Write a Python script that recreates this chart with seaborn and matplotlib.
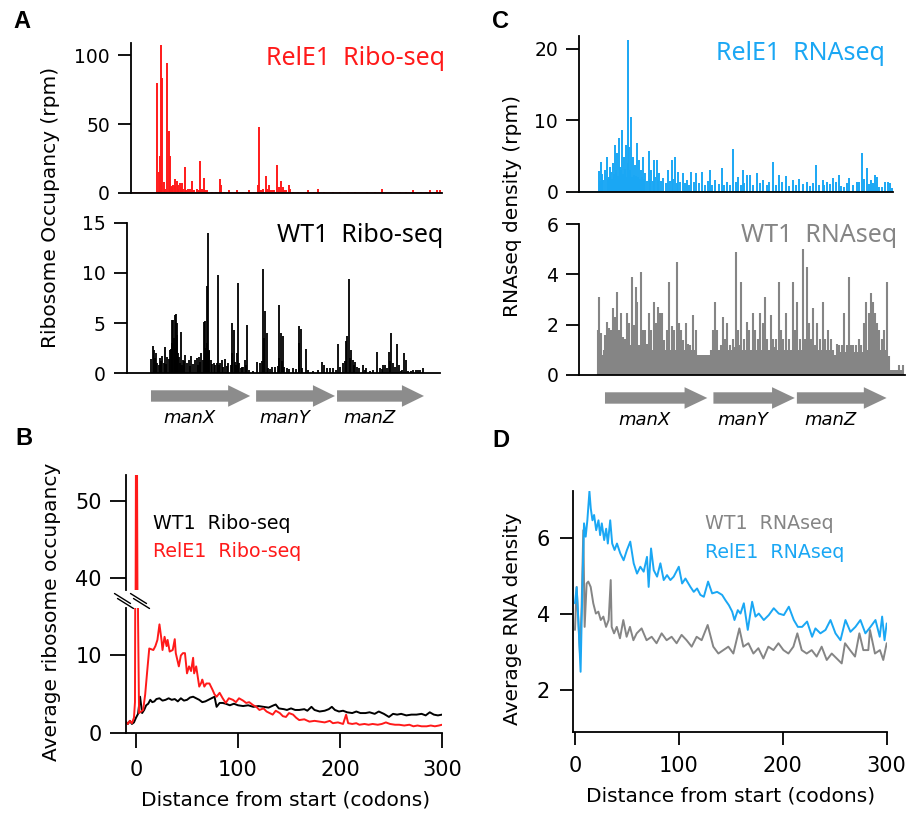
import matplotlib.pyplot as plt
import seaborn as sns
from matplotlib.lines import Line2D

W, H = 911, 814
RED = '#ff1a1a'
BLUE = '#1aa7f4'
GREY = '#858585'
ARROW = '#8c8c8c'

# ---- panel A: ribosome occupancy along manXYZ (position in bp from manX start)
relE_ribo_pos = [56, 75, 88, 98, 111, 127, 140, 160, 173, 186, 195, 206, 215, 232, 240, 252, 260, 268,
                 284, 290, 301, 315, 330, 345, 366, 380, 405, 420, 448, 470, 484, 500, 519, 530, 546,
                 600, 640, 676, 686, 720, 761, 846, 900, 964, 1010, 1052, 1062, 1080, 1101, 1127, 1140,
                 1153, 1170, 1183, 1210, 1232, 1251, 1274, 1290, 1300, 1320, 1349, 1362, 1390, 1444,
                 1542, 1600, 1633, 1700, 1787, 1850, 1934, 2000, 2114, 2200, 2261, 2350, 2440, 2500,
                 2571, 2650, 2700, 2734, 2800, 2832]
relE_ribo_val = [80, 15, 27, 107, 83, 8, 3, 94, 45, 27, 4, 5, 6, 10, 5, 9, 3, 6,
                 7, 4, 7, 3, 19, 2, 3, 3, 9, 2, 3, 2, 23, 3, 11, 2, 2,
                 1, 1, 10, 6, 1, 2, 2, 1, 2, 1, 6, 48, 2, 3, 12, 3,
                 6, 2, 2, 2, 20, 4, 9, 4, 2, 2, 6, 3, 1, 1,
                 2, 1, 3, 1, 1, 1, 1, 1, 1, 1, 3, 1, 1, 1,
                 2, 1, 1, 2, 2, 2]

wt_ribo_pos = [16, 29, 49, 62, 88, 111, 137, 160, 186, 203, 219, 232, 245, 258, 271, 291, 310, 337,
               369, 389, 428, 448, 470, 493, 519, 533, 546, 559, 572, 588, 617, 644, 657, 676, 696,
               722, 755, 797, 810, 826, 853, 866, 892, 918, 938, 964, 1042, 1068, 1101, 1117, 1134,
               1186, 1212, 1258, 1271, 1290, 1330, 1388, 1447, 1467, 1519, 1591, 1676, 1695, 1754,
               1787, 1836, 1885, 1911, 1924, 1940, 1957, 1976, 1996, 2022, 2074, 2107, 2146, 2218,
               2277, 2296, 2329, 2355, 2368, 2414, 2447, 2479, 2499, 2571, 2620, 2669,
               5, 40, 75, 100, 125, 150, 175, 195, 210, 225, 240, 252, 265, 280, 300, 320, 350, 380,
               410, 460, 480, 505, 526, 540, 552, 565, 600, 630, 665, 710, 740, 780, 790, 835, 845,
               880, 905, 930, 1000, 1090, 1110, 1150, 1170, 1240, 1250, 1280, 1300, 1350, 1420, 1455,
               1480, 1540, 1640, 1720, 1810, 1850, 1900, 1950, 1985, 2040, 2100, 2180, 2240, 2260,
               2310, 2340, 2390, 2430, 2460, 2520, 2550, 2600, 2640]
wt_ribo_val = [2.75, 2.3, 2.0, 1.0, 1.5, 1.7, 2.65, 1.6, 2.3, 5.3, 5.3, 5.8, 5.9, 5.0, 1.6, 4.1, 1.3, 1.8,
               1.3, 1.7, 1.3, 1.5, 1.6, 2.0, 5.1, 5.2, 8.7, 14.0, 2.3, 1.3, 1.0, 1.0, 9.8, 1.0, 1.3,
               1.4, 1.0, 5.0, 4.3, 1.1, 9.0, 1.0, 0.6, 1.3, 4.8, 0.3, 1.1, 1.0, 10.4, 6.2, 4.0,
               0.6, 0.6, 6.8, 4.0, 3.7, 0.5, 0.5, 4.7, 4.4, 2.4, 0.2, 1.1, 0.8, 0.5,
               0.5, 2.9, 1.0, 3.2, 3.7, 9.4, 2.3, 1.3, 1.1, 0.6, 0.8, 0.5, 0.2, 2.1,
               0.8, 0.8, 2.1, 4.0, 1.0, 2.9, 0.2, 2.0, 1.3, 0.3, 0.3, 0.5,
               1.4, 1.5, 0.8, 1.2, 1.0, 0.9, 1.4, 2.4, 3.0, 3.5, 2.5, 3.8, 2.0, 1.0, 0.8, 1.2, 1.0, 0.7,
               0.9, 0.8, 1.1, 1.3, 2.5, 2.0, 3.0, 2.2, 0.9, 0.8, 0.8, 0.6, 0.7, 0.8, 2.0, 0.8, 2.0,
               0.5, 0.6, 0.8, 0.2, 1.2, 3.5, 0.5, 0.4, 0.7, 1.5, 1.2, 0.6, 0.4, 0.4, 3.0,
               0.5, 0.3, 0.3, 0.5, 0.3, 0.6, 1.2, 1.5, 0.8, 0.5, 0.3, 0.3, 0.5, 0.4,
               0.5, 1.2, 0.6, 0.8, 0.3, 0.2, 0.2, 0.3, 0.3]

# ---- panel C: RNA-seq density along manXYZ
relE_rna_pos = [-54, -35, -16, 16, 35, 54, 73, 92, 111, 130, 143, 161, 180, 199, 215, 231, 244, 263,
                285, 307, 323, 339, 364, 383, 415, 440, 466, 491, 516, 554, 599, 637, 668, 694, 738,
                776, 820, 864, 921, 998, 1048, 1112, 1156, 1213, 1264, 1308, 1346, 1378, 1441, 1504,
                1593, 1650, 1720, 1789, 1846, 1916, 2005, 2068, 2106, 2163, 2220, 2271, 2321, 2391,
                2438, 2486, 2530, 2568, 2606, 2660, 2689, 2727,
                -45, -25, 0, 25, 45, 63, 83, 102, 120, 152, 170, 190, 207, 222, 238, 253, 274, 296,
                315, 331, 350, 373, 398, 428, 453, 478, 503, 535, 575, 620, 650, 680, 715, 757, 798,
                842, 890, 950, 975, 1020, 1080, 1135, 1185, 1240, 1290, 1325, 1410, 1470, 1540, 1560,
                1620, 1680, 1750, 1815, 1880, 1950, 1980, 2035, 2085, 2135, 2190, 2245, 2295, 2355,
                2415, 2460, 2510, 2550, 2585, 2630, 2710]
relE_rna_val = [2.9, 4.1, 1.6, 4.9, 2.1, 2.8, 4.0, 6.5, 5.4, 7.5, 3.5, 8.6, 4.9, 6.5, 21.3, 6.3, 10.5, 4.9,
                3.7, 6.8, 4.4, 3.1, 4.9, 2.6, 5.7, 3.0, 4.5, 4.4, 2.6, 1.9, 3.1, 4.5, 4.9, 2.8, 2.6,
                1.6, 2.8, 2.6, 2.8, 3.1, 1.6, 3.3, 1.4, 6.0, 2.1, 3.0, 2.3, 2.3, 2.6, 1.6,
                4.1, 2.3, 2.2, 1.6, 1.8, 1.4, 3.8, 1.6, 1.4, 1.9, 2.3, 0.7, 1.9, 1.3,
                5.4, 3.3, 1.6, 2.3, 0.7, 1.3, 1.3, 0.5,
                1.5, 2.5, 3.0, 1.8, 3.5, 1.8, 2.5, 3.0, 2.2, 3.0, 2.5, 3.2, 2.0, 4.0, 3.0, 2.0, 2.4, 2.2,
                2.0, 1.8, 2.0, 1.8, 1.5, 1.8, 1.5, 2.0, 1.6, 1.5, 1.2, 1.5, 1.8, 1.2, 1.3, 1.2, 1.0,
                1.4, 1.2, 1.0, 1.5, 1.0, 1.1, 0.9, 1.0, 1.3, 0.9, 1.2, 1.0, 1.2, 0.9, 1.4,
                1.0, 1.3, 0.8, 1.0, 1.1, 0.8, 1.2, 1.0, 0.9, 1.1, 1.3, 0.8, 1.2, 1.0,
                1.4, 1.8, 1.1, 1.2, 2.0, 0.6, 1.2]

wt_rna_pos = [-66, -54, -35, -16, 3, 22, 41, 54, 73, 85, 98, 117, 130, 149, 168, 187, 212, 231, 257,
              276, 295, 307, 339, 358, 383, 402, 421, 440, 466, 485, 504, 523, 542, 561, 586, 611,
              637, 656, 687, 700, 719, 744, 770, 789, 833, 865, 877, 903, 934, 966, 998, 1029, 1048,
              1067, 1099, 1124, 1143, 1162, 1188, 1213, 1245, 1264, 1295, 1321, 1346, 1371, 1403,
              1428, 1454, 1473, 1498, 1523, 1542, 1574, 1599, 1625, 1650, 1669, 1694, 1720, 1745,
              1783, 1808, 1827, 1853, 1884, 1903, 1922, 1941, 1960, 1979, 1998, 2017, 2043, 2074,
              2093, 2119, 2144, 2169, 2201, 2226, 2252, 2271, 2296, 2315, 2334, 2359, 2385, 2410,
              2435, 2461, 2480, 2505, 2530, 2549, 2568, 2587, 2606, 2632, 2651, 2682, 2701, 2727,
              2758, 2790, 2809, 2834]
wt_rna_val = [1.8, 3.1, 1.65, 0.8, 1.6, 2.1, 1.85, 1.8, 2.65, 1.5, 2.3, 3.3, 1.8, 2.45, 1.5, 1.45, 2.45,
              2.05, 3.9, 2.0, 3.5, 2.9, 4.1, 1.8, 1.8, 1.25, 2.45, 1.8, 2.9, 2.05, 2.7, 2.45, 2.45,
              1.4, 1.8, 3.7, 1.95, 1.8, 4.5, 2.05, 1.8, 1.4, 2.05, 1.25, 2.4, 1.8, 0.8, 0.8, 0.8,
              0.8, 0.8, 1.8, 2.9, 1.8, 1.2, 2.3, 1.45, 2.05, 1.2, 1.45, 4.9, 1.8, 3.7, 1.45, 2.1,
              1.8, 2.45, 1.8, 1.45, 2.45, 2.05, 3.1, 1.45, 2.4, 1.45, 1.45, 3.7, 1.8, 1.45, 2.45,
              1.45, 3.7, 1.8, 2.9, 1.45, 5.0, 1.45, 4.3, 2.05, 1.45, 2.65, 1.2, 2.05, 1.45, 2.9,
              1.45, 1.8, 1.45, 1.0, 1.25, 1.2, 1.2, 2.45, 1.2, 3.9, 1.2, 1.2, 1.2, 1.45, 1.2, 2.05,
              2.9, 2.45, 3.25, 2.9, 2.45, 2.05, 1.8, 1.45, 1.8, 3.7, 0.75, 0.2, 0.2, 0.4, 0.2, 0.4]
# low-level background of the WT RNA-seq trace
wt_rna_floor_pos = [-60, -45, -25, -6, 12, 31, 48, 63, 79, 91, 107, 123, 140, 158, 177, 199, 221, 244,
                    266, 285, 301, 323, 348, 370, 392, 411, 430, 453, 475, 494, 513, 532, 551, 573,
                    598, 624, 646, 670, 710, 731, 756, 800, 811, 820, 850, 890, 915, 950, 982, 1010,
                    1082, 1112, 1175, 1200, 1230, 1280, 1308, 1335, 1360, 1390, 1415, 1440, 1486,
                    1510, 1533, 1558, 1587, 1612, 1637, 1682, 1707, 1732, 1764, 1795, 1840, 1868,
                    1912, 1932, 1950, 1970, 1989, 2007, 2030, 2058, 2083, 2106, 2131, 2157, 2185,
                    2213, 2239, 2261, 2283, 2305, 2347, 2372, 2397, 2422, 2448, 2470, 2492, 2517,
                    2540, 2558, 2577, 2596, 2619, 2641, 2666, 2692, 2714, 2742, 2774]
wt_rna_floor_val = [1.0, 1.0, 0.8, 1.0, 1.0, 1.2, 1.0, 1.2, 1.0, 1.0, 1.2, 1.0, 1.2, 1.0, 1.0, 1.0, 1.2,
                    1.2, 1.2, 1.2, 1.0, 1.2, 1.0, 1.0, 1.0, 1.0, 1.0, 1.0, 1.0, 1.2, 1.0, 1.0, 1.0,
                    1.0, 1.0, 1.0, 1.0, 1.0, 1.0, 1.0, 1.0, 1.0, 1.2, 1.0, 1.0, 0.8, 0.8, 0.8, 0.8,
                    1.0, 1.0, 1.1, 1.0, 1.0, 1.1, 1.2, 1.0, 1.0, 1.2, 1.0, 1.0, 1.0, 1.0, 1.2, 1.0,
                    1.0, 1.0, 1.1, 1.0, 1.0, 1.0, 1.0, 1.0, 1.0, 1.0, 1.0, 1.0, 1.2, 1.0, 1.0, 1.0,
                    1.0, 1.0, 1.0, 1.0, 1.0, 1.0, 0.8, 0.8, 0.9, 0.9, 1.0, 0.9, 0.9, 0.9, 0.9, 0.9,
                    0.9, 0.9, 1.0, 1.0, 1.2, 1.2, 1.0, 1.0, 1.0, 1.0, 1.0, 1.0, 0.6, 0.2, 0.2, 0.2]

gene_names = ['manX', 'manY', 'manZ']
gene_start = [0, 1030, 1823]
gene_end = [972, 1803, 2675]

# ---- panel B: metagene ribosome occupancy (codons from start)
b_relE_x = [-10, -8, -6, -4, -2, -1, 0, 1, 2, 3, 5, 7, 9, 11, 13, 15, 17, 19, 21, 23, 25, 26, 28, 30,
            31, 33, 36, 38, 39, 42, 44, 46, 48, 50, 52, 54, 56, 57, 59, 62, 64, 65, 67, 69, 72, 75,
            77, 79, 82, 85, 88, 91, 95, 98, 101, 105, 108, 111, 115, 118, 121, 125, 128, 131, 134,
            137, 141, 144, 147, 150, 154, 157, 160, 165, 170, 175, 180, 185, 190, 193, 198, 203,
            206, 208, 212, 216, 219, 224, 228, 232, 237, 241, 245, 249, 254, 258, 263, 268, 272,
            276, 280, 285, 289, 293, 297, 300]
b_relE_y = [1.5, 1.2, 1.6, 1.3, 2.0, 4.0, 58, 55, 15, 2.6, 2.8, 3.0, 5.0, 8.0, 10.9, 10.8, 10.7, 11.2,
            12.0, 14.0, 12.0, 10.7, 12.4, 11.2, 12.0, 10.5, 10.7, 12.1, 10.3, 8.6, 10.0, 10.3, 10.3,
            7.7, 8.6, 8.0, 9.7, 7.7, 8.6, 6.0, 6.5, 6.9, 6.0, 6.4, 6.4, 5.6, 5.0, 4.7, 5.2, 4.5,
            3.9, 4.5, 4.3, 4.0, 4.5, 4.2, 3.9, 4.0, 3.6, 3.4, 3.0, 3.2, 2.8, 2.6, 2.4, 2.9, 2.6,
            2.2, 2.1, 2.6, 2.4, 2.0, 1.7, 1.8, 1.5, 1.6, 1.5, 1.4, 1.6, 1.3, 1.4, 1.2, 2.4, 1.3,
            1.2, 1.3, 1.1, 1.2, 1.1, 1.2, 1.1, 1.2, 1.4, 1.2, 1.1, 1.1, 1.0, 1.1, 0.9, 1.0, 0.9,
            0.9, 1.0, 0.9, 1.0, 1.1]
b_wt_x = [-10, -8, -6, -4, -2, 0, 2, 4, 6, 8, 10, 12, 14, 16, 18, 20, 23, 26, 29, 32, 35, 38, 41, 44,
          47, 50, 53, 56, 59, 62, 65, 68, 71, 74, 77, 79, 82, 85, 88, 92, 96, 100, 105, 110, 115,
          120, 125, 130, 135, 137, 140, 145, 148, 152, 156, 160, 165, 168, 172, 175, 180, 185, 189,
          192, 195, 199, 203, 207, 212, 216, 220, 225, 229, 234, 238, 243, 248, 252, 256, 260, 265,
          270, 275, 280, 284, 288, 292, 296, 300]
b_wt_y = [1.5, 1.2, 1.6, 1.2, 1.4, 2.0, 2.5, 4.7, 2.6, 3.0, 3.6, 3.8, 4.3, 4.0, 4.1, 4.4, 4.5, 4.2, 4.3,
          4.5, 4.3, 4.4, 4.1, 4.5, 4.2, 4.3, 4.6, 4.7, 4.5, 4.3, 4.0, 4.1, 4.3, 4.5, 4.7, 3.4, 3.9,
          3.9, 3.8, 3.6, 3.8, 3.6, 3.5, 3.6, 3.4, 3.5, 3.4, 3.3, 3.6, 3.7, 3.2, 3.1, 3.0, 3.2, 3.0,
          3.0, 3.1, 2.9, 3.4, 3.0, 2.8, 2.9, 3.1, 3.4, 3.0, 2.8, 2.9, 2.7, 2.6, 2.8, 2.6, 2.6, 2.7,
          2.5, 2.8, 2.5, 2.1, 2.5, 2.4, 2.5, 2.3, 2.4, 2.4, 2.5, 2.3, 2.7, 2.4, 2.3, 2.4]

# ---- panel D: metagene RNA density
d_relE_x = [0, 1.6, 3.2, 5.4, 7.1, 8.7, 10.3, 11.9, 13.9, 15.2, 16.8, 18.4, 20.4, 22.6, 24.2, 25.8,
            28.1, 30, 31.6, 33.9, 35.8, 38.1, 40.4, 43.6, 46.8, 50, 53.2, 56.5, 59.7, 62.9, 66.1,
            69.3, 70.9, 73.2, 75.8, 79, 82.2, 85.4, 88.6, 91.8, 95, 99.9, 103.1, 106.3, 111.1,
            114.3, 117.5, 120.7, 124, 128.1, 132, 136.8, 141.6, 144.8, 148.1, 151.3, 153.5, 156.7,
            159.3, 162.5, 166.3, 170.5, 173.7, 176.9, 181.7, 186.5, 191.3, 196.1, 201, 205.8,
            210.6, 214.5, 218.6, 223.4, 228.2, 231.4, 236.2, 241.1, 245.9, 250.7, 255.5, 260.3,
            265.1, 269.9, 274.7, 279.5, 284.4, 289.2, 293.3, 295.6, 297.9, 300]
d_relE_y = [4.28, 4.7, 3.85, 2.48, 4.7, 6.38, 6.03, 6.46, 7.22, 6.77, 6.46, 6.6, 6.2, 6.46, 6.07, 6.38,
            5.94, 6.24, 5.85, 6.46, 5.85, 5.68, 5.85, 5.59, 5.41, 5.68, 5.9, 5.33, 5.06, 5.24, 5.11,
            5.5, 4.71, 5.72, 5.15, 4.98, 5.33, 4.89, 5.02, 4.89, 4.98, 5.24, 4.8, 4.93, 4.71,
            4.58, 4.67, 4.5, 4.45, 4.85, 4.54, 4.58, 4.5, 4.36, 4.23, 4.06, 3.84, 4.1,
            4.01, 4.28, 3.58, 4.32, 3.93, 4.01, 3.84, 3.97, 4.15, 4.01, 3.97, 4.19,
            3.84, 3.66, 3.66, 3.8, 3.4, 3.62, 3.49, 3.58, 3.84, 3.49, 3.31, 3.84,
            3.53, 3.66, 3.84, 3.49, 3.66, 3.84, 3.4, 3.93, 3.31, 3.75]
d_wt_x = [0, 1.6, 3.2, 4.8, 6.4, 8, 9.3, 11.2, 12.8, 15.1, 17.6, 20.1, 22.5, 24.8, 27.3, 29.9, 32.4,
          34.4, 35.3, 37.6, 40.2, 43.3, 46.5, 49.7, 52.9, 56.2, 59.4, 64.1, 68.9, 73.8, 78.5, 83.4,
          88.2, 93, 97.8, 102.6, 107.4, 112.3, 117.1, 121.9, 127.7, 133.1, 138, 142.8, 147.6,
          152.4, 158.2, 162, 166.9, 171.7, 176.5, 181.3, 186.1, 191, 195.8, 200.6, 205.4, 210.2,
          214, 218.2, 223, 227.8, 232.6, 237.4, 242.3, 247.1, 251.9, 256.7, 259.9, 264.7, 269.5,
          273.7, 277.5, 282.3, 283.9, 288.7, 293.5, 296.7, 300]
d_wt_y = [3.58, 4.71, 3.84, 2.96, 4.19, 6.2, 3.66, 4.8, 4.85, 4.71, 4.28, 4.01, 4.06, 3.84, 3.93, 3.66,
          3.84, 4.89, 3.66, 3.49, 3.66, 3.36, 3.84, 3.4, 3.66, 3.31, 3.49, 3.62, 3.31, 3.4, 3.23,
          3.49, 3.31, 3.4, 3.23, 3.45, 3.31, 3.14, 3.4, 3.31, 3.71, 3.14, 2.96, 3.05, 3.14,
          2.96, 3.62, 3.14, 3.23, 2.96, 3.1, 2.83, 3.14, 3.05, 3.23, 3.05, 2.96, 3.14,
          3.49, 3.05, 2.96, 3.05, 2.88, 3.14, 2.79, 2.96, 2.83, 2.7, 3.23, 3.05, 2.88,
          3.49, 3.05, 3.05, 3.58, 2.96, 3.05, 2.79, 3.23]

sns.set_style('ticks')
plt.rcParams['font.family'] = ['DejaVu Sans']
plt.rcParams.update({'text.color': 'black', 'axes.labelcolor': 'black',
                     'xtick.color': 'black', 'ytick.color': 'black'})

fig = plt.figure(figsize=(W / 100, H / 100), dpi=100)


def box(l, t, r, b):
    return [l / W, 1 - b / H, (r - l) / W, (b - t) / H]


def fxy(x, y):
    return x / W, 1 - y / H


def style(ax, size, ylen, ypad, xlen=0, xpad=0, bottom=True):
    for s in ['top', 'right']:
        ax.spines[s].set_visible(False)
    ax.spines['left'].set_linewidth(1.3)
    ax.spines['left'].set_color('black')
    ax.spines['bottom'].set_linewidth(1.3)
    ax.spines['bottom'].set_color('black')
    ax.spines['bottom'].set_visible(bottom)
    ax.tick_params(axis='y', length=ylen, width=1.3, color='black', labelcolor='black',
                   labelsize=size, pad=ypad)
    ax.tick_params(axis='x', length=xlen, width=1.3, color='black', labelcolor='black',
                   labelsize=size, pad=xpad)
    ax.set_xlabel('')
    ax.set_ylabel('')


# ---- A top: RelE1 Ribo-seq
a1 = fig.add_axes(box(131, 43, 442, 193))
a1.vlines(relE_ribo_pos, 0, relE_ribo_val, color=RED, lw=1.4)
a1.axhline(0, color=RED, lw=1.8)
a1.set_xlim(-196, 2852)
a1.set_ylim(0, 108.7)
a1.set_yticks([0, 50, 100])
a1.set_xticks([])
style(a1, 13.5, 9.4, 5.8)

# ---- A bottom: WT1 Ribo-seq
a2 = fig.add_axes(box(127, 223, 440, 373))
a2.vlines(wt_ribo_pos, 0, wt_ribo_val, color='black', lw=1.3)
a2.set_xlim(-235, 2832)
a2.set_ylim(0, 15)
a2.set_yticks([0, 5, 10, 15])
a2.set_xticks([])
style(a2, 13.5, 9.4, 5.8)

# ---- C top: RelE1 RNAseq
c1 = fig.add_axes(box(579.3, 36, 893, 191.7))
c1.vlines(relE_rna_pos, 0, relE_rna_val, color=BLUE, lw=1.4)
c1.axhline(0, color=BLUE, lw=1.8)
c1.set_xlim(-244, 2736)
c1.set_ylim(0, 21.8)
c1.set_yticks([0, 10, 20])
c1.set_xticks([])
style(c1, 13.5, 9.4, 5.8)

# ---- C bottom: WT1 RNAseq
c2 = fig.add_axes(box(579.3, 224, 905, 375))
c2.vlines(wt_rna_floor_pos, 0, wt_rna_floor_val, color=GREY, lw=1.5)
c2.vlines(wt_rna_pos, 0, wt_rna_val, color=GREY, lw=1.5)
c2.set_xlim(-244, 2850)
c2.set_ylim(0, 6)
c2.set_yticks([0, 2, 4, 6])
c2.set_xticks([])
style(c2, 13.5, 9.4, 5.8)

# ---- gene maps under A and C
for l, t, r, b, xl in [(127, 376, 440, 436, (-235, 2832)), (579.3, 378, 905, 438, (-244, 2850))]:
    g = fig.add_axes(box(l, t, r, b))
    g.set_xlim(*xl)
    g.set_ylim(0, 1)
    g.axis('off')
    for name, s, e in zip(gene_names, gene_start, gene_end):
        g.arrow(s, 0.667, e - s, 0, width=0.19, head_width=0.36, head_length=216,
                length_includes_head=True, color=ARROW, lw=0)
        g.text((s + e - 216) / 2, 0.2167, name, ha='center', va='baseline',
               fontsize=13, style='italic', color='black')

# ---- B: broken axis
b_top = fig.add_axes(box(126, 475, 442, 590))
b_bot = fig.add_axes(box(126, 608, 442, 733.3))
for ax in [b_top, b_bot]:
    sns.lineplot(x=b_wt_x, y=b_wt_y, ax=ax, color='black', lw=1.4, estimator=None, legend=False)
    sns.lineplot(x=b_relE_x, y=b_relE_y, ax=ax, color=RED, lw=1.4, estimator=None, legend=False)
    ax.set_xlim(-9.8, 300)
b_top.set_ylim(38.5, 53.4)
b_top.set_yticks([40, 50])
b_top.set_xticks([])
style(b_top, 15, 11.5, 5.8, bottom=False)
b_bot.set_ylim(0, 16.1)
b_bot.set_yticks([0, 10])
b_bot.set_xticks([0, 100, 200, 300])
style(b_bot, 15, 11.5, 5.8, xlen=10.8, xpad=8.5)

# break marks on the y axis and on the clipped spike
for cx in [124, 140]:
    for dy in [-2.5, 2.5]:
        x0, y0 = fxy(cx - 8 + dy * 0.6, 601 + dy - 5)
        x1, y1 = fxy(cx + 8 + dy * 0.6, 601 + dy + 5)
        fig.add_artist(Line2D([x0, x1], [y0, y1], color='black', lw=1.0))

# ---- D
d = fig.add_axes(box(572.7, 491, 886.7, 731.7))
sns.lineplot(x=d_wt_x, y=d_wt_y, ax=d, color=GREY, lw=1.4, estimator=None, legend=False)
sns.lineplot(x=d_relE_x, y=d_relE_y, ax=d, color=BLUE, lw=1.4, estimator=None, legend=False)
d.set_xlim(-2.2, 300)
d.set_ylim(0.906, 7.23)
d.set_yticks([2, 4, 6])
d.set_xticks([0, 100, 200, 300])
style(d, 15, 9.1, 7.2, xlen=9.4, xpad=8.4)

# ---- texts
for s, x, y in [('A', 22, 28), ('B', 23.5, 445), ('C', 500, 28), ('D', 501, 447)]:
    fig.text(*fxy(x, y), s, ha='center', va='baseline', fontsize=17, fontweight='bold',
             family='Liberation Sans', color='black')

for s, x, y, c in [('RelE1  Ribo-seq', 445, 65, RED), ('WT1  Ribo-seq', 443, 242, 'black'),
                   ('RelE1  RNAseq', 885, 60, BLUE), ('WT1  RNAseq', 897, 242, GREY)]:
    fig.text(*fxy(x, y), s, ha='right', va='baseline', fontsize=18, color=c, family='Noto Sans')

for s, x, y, c in [('WT1  Ribo-seq', 153, 529, 'black'), ('RelE1  Ribo-seq', 153, 557, RED),
                   ('WT1  RNAseq', 705, 529, GREY), ('RelE1  RNAseq', 705, 557.5, BLUE)]:
    fig.text(*fxy(x, y), s, ha='left', va='baseline', fontsize=13.7, color=c)

for s, x, y in [('Ribosome Occupancy (rpm)', 51, 207), ('RNAseq density (rpm)', 512, 206),
                ('Average ribosome occupancy', 52, 612), ('Average RNA density', 512, 619)]:
    fig.text(*fxy(x, y), s, ha='center', va='center', rotation=90, fontsize=14.5, color='black')

for x, y in [(286, 805), (731, 802)]:
    fig.text(*fxy(x, y), 'Distance from start (codons)', ha='center', va='baseline',
             fontsize=14.5, color='black')

fig.savefig('out.png', dpi=100)
